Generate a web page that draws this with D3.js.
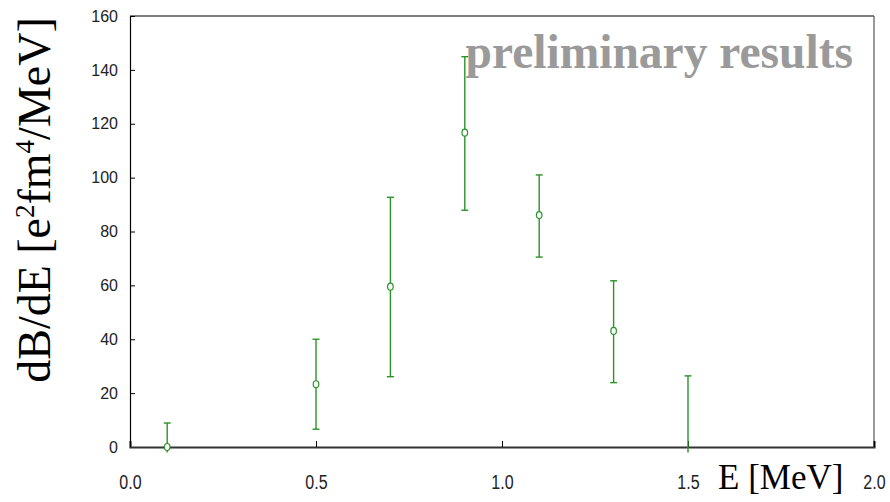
<!DOCTYPE html>
<html>
<head>
<meta charset="utf-8">
<script src="https://cdn.jsdelivr.net/npm/d3@7"></script>
<style>
  html, body { margin: 0; padding: 0; background: #fff; }
  svg { display: block; }
</style>
</head>
<body>
<div id="chart"></div>
<script>
// values
const energies = [0.1, 0.5, 0.7, 0.9, 1.1, 1.3, 1.5];
const strength = [0, 23.3, 59.5, 116.7, 86.1, 43.1, null];
const errHigh = [8.9, 40.0, 92.7, 144.9, 101.0, 61.7, 26.4];
const errLow = [-2, 6.6, 26.1, 87.9, 70.5, 23.9, -2];
const xTicks = [0.0, 0.5, 1.0, 1.5, 2.0];
const yTicks = [0, 20, 40, 60, 80, 100, 120, 140, 160];

const W = 890, H = 502;
const margin = {top: 16, right: 16, bottom: 55, left: 130};
const width = W - margin.left - margin.right,
    height = H - margin.top - margin.bottom;
const green = "#2a932a";

const svg = d3.select("#chart").append("svg")
    .attr("width", W).attr("height", H);

const g = svg.append("g")
    .attr("transform", "translate(" + margin.left + "," + margin.top + ")");

const x = d3.scaleLinear().domain([0, 2]).range([0, width]);
const y = d3.scaleLinear().domain([0, 160]).range([height, 0]);

// frame: top + right
g.append("line").attr("x1", 0).attr("x2", width).attr("y1", 0).attr("y2", 0)
    .attr("stroke", "#000").attr("stroke-width", 1.2);
g.append("line").attr("x1", width).attr("x2", width).attr("y1", 0).attr("y2", height)
    .attr("stroke", "#555").attr("stroke-width", 1.2);

// y axis, ticks pointing inward
const yAxis = g.append("g")
    .call(d3.axisLeft(y).tickValues(yTicks).tickSize(-4).tickPadding(12).tickFormat(d3.format("d")));
yAxis.select(".domain").attr("stroke", "#000").attr("stroke-width", 1.2);
yAxis.selectAll(".tick line").attr("stroke", "#000").attr("x1", 1).attr("x2", 5);
yAxis.selectAll("text")
    .attr("font-family", "'Liberation Sans', Arial, sans-serif")
    .attr("font-size", 16).attr("fill", "#222");

// x axis
const xAxis = g.append("g")
    .attr("transform", "translate(0," + height + ")")
    .call(d3.axisBottom(x).tickValues(xTicks).tickSize(-6).tickPadding(28).tickFormat(d3.format(".1f")));
xAxis.select(".domain").attr("stroke", "#333").attr("stroke-width", 2.2);
xAxis.selectAll(".tick line").attr("stroke", "#000");
xAxis.selectAll("text")
    .attr("font-family", "'Liberation Sans', Arial, sans-serif")
    .attr("font-size", 20).attr("fill", "#222")
    .attr("transform", "scale(0.8,1)");

// watermark
g.append("text")
    .attr("x", 723).attr("y", 68 - margin.top)
    .attr("text-anchor", "end")
    .attr("font-family", "'Liberation Serif', 'Times New Roman', serif")
    .attr("font-weight", "bold")
    .attr("font-size", 47.5)
    .attr("fill", "#9a9a9a")
    .text("preliminary results");

// error bars
const pts = energies.map((e, i) => ({e: e, v: strength[i], hi: errHigh[i], lo: errLow[i]}));

const bars = g.append("g").selectAll("g").data(pts).enter().append("g");
bars.append("line")
    .attr("x1", d => x(d.e)).attr("x2", d => x(d.e))
    .attr("y1", d => y(d.hi)).attr("y2", d => y(d.lo))
    .attr("stroke", green).attr("stroke-width", 1.4);
bars.append("line")
    .attr("x1", d => x(d.e) - 3.5).attr("x2", d => x(d.e) + 3.5)
    .attr("y1", d => y(d.hi)).attr("y2", d => y(d.hi))
    .attr("stroke", green).attr("stroke-width", 1.4);
bars.filter(d => d.lo >= 0).append("line")
    .attr("x1", d => x(d.e) - 3.5).attr("x2", d => x(d.e) + 3.5)
    .attr("y1", d => y(d.lo)).attr("y2", d => y(d.lo))
    .attr("stroke", green).attr("stroke-width", 1.4);

// markers
g.append("g").selectAll("ellipse").data(pts.filter(d => d.v !== null)).enter()
    .append("ellipse")
    .attr("cx", d => x(d.e)).attr("cy", d => y(d.v))
    .attr("rx", 2.8).attr("ry", 3.5)
    .attr("fill", "#fff").attr("stroke", green).attr("stroke-width", 1.2);

// axis titles
const yt = svg.append("text")
    .attr("transform", "translate(50,200) rotate(-90)")
    .attr("text-anchor", "middle")
    .attr("font-family", "'Liberation Serif', 'Times New Roman', serif")
    .attr("font-size", 46)
    .attr("fill", "#000");
yt.append("tspan").text("dB/dE [e");
yt.append("tspan").attr("font-size", 27).attr("dy", -16).text("2");
yt.append("tspan").attr("dy", 16).text("fm");
yt.append("tspan").attr("font-size", 27).attr("dy", -16).text("4");
yt.append("tspan").attr("dy", 16).text("/MeV]");

svg.append("text")
    .attr("x", 718).attr("y", 489)
    .attr("font-family", "'Liberation Serif', 'Times New Roman', serif")
    .attr("font-size", 35)
    .attr("fill", "#000")
    .text("E [MeV]");
</script>
</body>
</html>
